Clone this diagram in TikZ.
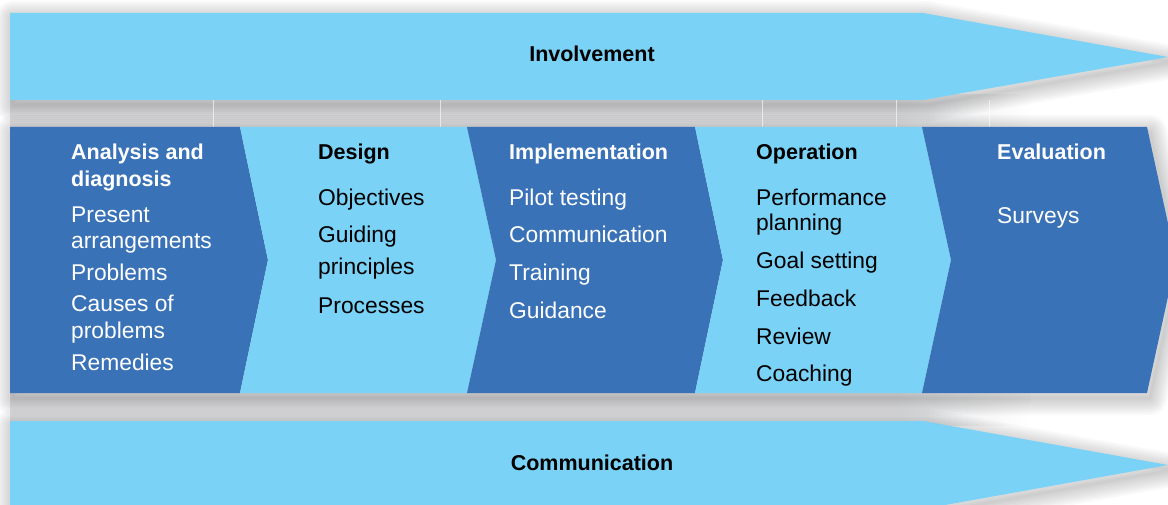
\documentclass[tikz,border=0pt]{standalone}
\usepackage{fontspec}
\setmainfont{Liberation Sans}
\definecolor{lblue}{HTML}{7AD2F6}
\definecolor{dblue}{HTML}{3A72B8}
\definecolor{gapgrey}{HTML}{E6E7E9}
\tikzset{
  halo/.style={draw=black, line join=round, opacity=0.024},
  ttl/.style={anchor=base west, inner sep=0pt, font=\fontsize{21.5}{24}\selectfont\bfseries},
  itm/.style={anchor=base west, inner sep=0pt, font=\fontsize{22.8}{26}\selectfont},
  bandttl/.style={anchor=base, inner sep=0pt, font=\fontsize{21.5}{24}\selectfont\bfseries, text=black},
  gapline/.style={draw=white, opacity=0.6, line width=0.8pt}
}
\begin{document}
\begin{tikzpicture}[x=1pt,y=-1pt]
\useasboundingbox (0,0) rectangle (1168,505);
\clip (0,0) rectangle (1168,505);
% grey background between bands
\fill[gapgrey] (10,95) rectangle (900,425);
\shade[left color=gapgrey, right color=white] (899,95) rectangle (1030,425);
% shadows
\foreach \w in {34,30,26,22,18,14,10,6,3}{
  \draw[halo, line width=\w pt, shift={(3,5)}] (10,13) -- (923,13) -- (1168,57) -- (923,100) -- (10,100) -- cycle;
  \draw[halo, line width=\w pt, shift={(3,5)}] (10,127) -- (1147,127) -- (1176,260) -- (1147,393) -- (10,393) -- cycle;
  \draw[halo, line width=\w pt, shift={(3,5)}] (10,421) -- (923,421) -- (1168,465) -- (923,509) -- (10,509) -- cycle;
}
% faint lines in the top gap
\foreach \x in {213,440,762,896,989}{
  \draw[gapline] (\x,100) -- (\x,127);
}
% top and bottom arrows
\fill[lblue] (10,13) -- (923,13) -- (1168,57) -- (923,100) -- (10,100) -- cycle;
\fill[lblue] (10,421) -- (923,421) -- (1168,465) -- (923,509) -- (10,509) -- cycle;
% chevrons
\fill[dblue] (10,127) -- (240,127) -- (268,260) -- (240,393) -- (10,393) -- cycle;
\fill[lblue] (240,127) -- (467,127) -- (496,260) -- (467,393) -- (240,393) -- (268,260) -- cycle;
\fill[dblue] (467,127) -- (695,127) -- (723,260) -- (695,393) -- (467,393) -- (496,260) -- cycle;
\fill[lblue] (695,127) -- (922,127) -- (951,260) -- (922,393) -- (695,393) -- (723,260) -- cycle;
\fill[dblue] (922,127) -- (1147,127) -- (1176,260) -- (1147,393) -- (922,393) -- (951,260) -- cycle;
% band labels
\node[bandttl] (inv) at (592,62) {Involvement};
\node[bandttl] (com) at (592,470) {Communication};
% column 1
\begin{scope}[every node/.append style={text=white}]
\node[ttl] (a0) at (71,160) {Analysis and};
\node[ttl] (a1) at (71,187) {diagnosis};
\node[itm] (a2) at (71,223) {Present};
\node[itm] (a3) at (71,249) {arrangements};
\node[itm] (a4) at (71,280) {Problems};
\node[itm] (a5) at (71,312) {Causes of};
\node[itm] (a6) at (71,338) {problems};
\node[itm] (a7) at (71,370) {Remedies};
\end{scope}
% column 2
\begin{scope}[every node/.append style={text=black}]
\node[ttl] (d0) at (318,160) {Design};
\node[itm] (d1) at (318,206) {Objectives};
\node[itm] (d2) at (318,243) {Guiding};
\node[itm] (d3) at (318,275) {principles};
\node[itm] (d4) at (318,313) {Processes};
\end{scope}
% column 3
\begin{scope}[every node/.append style={text=white}]
\node[ttl] (i0) at (509,160) {Implementation};
\node[itm] (i1) at (509,206) {Pilot testing};
\node[itm] (i2) at (509,243) {Communication};
\node[itm] (i3) at (509,281) {Training};
\node[itm] (i4) at (509,318) {Guidance};
\end{scope}
% column 4
\begin{scope}[every node/.append style={text=black}]
\node[ttl] (o0) at (756,160) {Operation};
\node[itm] (o1) at (756,206) {Performance};
\node[itm] (o2) at (756,231) {planning};
\node[itm] (o3) at (756,269) {Goal setting};
\node[itm] (o4) at (756,306) {Feedback};
\node[itm] (o5) at (756,344) {Review};
\node[itm] (o6) at (756,381) {Coaching};
\end{scope}
% column 5
\begin{scope}[every node/.append style={text=white}]
\node[ttl] (e0) at (997,160) {Evaluation};
\node[itm] (e1) at (997,224) {Surveys};
\end{scope}
\end{tikzpicture}
\end{document}
